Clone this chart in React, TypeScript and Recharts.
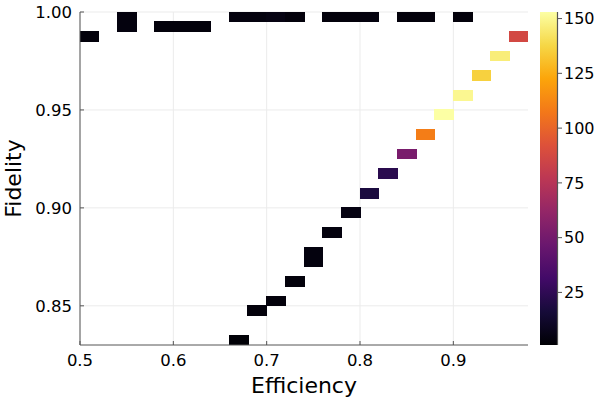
import React from 'react';
import { ScatterChart, XAxis, YAxis, CartesianGrid, ReferenceArea } from 'recharts';

// histogram bins: left edge (efficiency), bottom edge (fidelity), count
const effBins = [
  0.50, 0.54, 0.54, 0.58, 0.60, 0.62, 0.66, 0.68, 0.70, 0.72, 0.76, 0.78, 0.80, 0.84, 0.86, 0.90, 0.96,
  0.66, 0.68, 0.70, 0.72, 0.74, 0.74, 0.76, 0.78, 0.80, 0.82, 0.84, 0.86, 0.88, 0.90, 0.92, 0.94,
];
const fidBins = [
  0.985, 0.995, 0.990, 0.990, 0.990, 0.990, 0.995, 0.995, 0.995, 0.995, 0.995, 0.995, 0.995, 0.995, 0.995, 0.995, 0.985,
  0.830, 0.845, 0.850, 0.860, 0.870, 0.875, 0.885, 0.895, 0.905, 0.915, 0.925, 0.935, 0.945, 0.955, 0.965, 0.975,
];
const counts = [
  3, 4, 4, 3, 3, 3, 4, 4, 5, 3, 3, 3, 4, 3, 3, 3, 87,
  2, 3, 3, 3, 4, 4, 4, 5, 18, 23, 52, 109, 153, 150, 136, 146,
];
const binWidth = 0.02;
const binHeight = 0.005;

const xTicks = [0.5, 0.6, 0.7, 0.8, 0.9];
const yTicks = [0.85, 0.9, 0.95, 1.0];
const cbarTicks = [25, 50, 75, 100, 125, 150];
const cMin = 1;
const cMax = 153;

const inferno = [
  '#000004', '#160b39', '#420a68', '#6a176e', '#932667', '#bc3754',
  '#dd513a', '#f37819', '#fca50a', '#f6d746', '#fcffa4',
];

const hexToRgb = (h: string) => [1, 3, 5].map(i => parseInt(h.slice(i, i + 2), 16));

const colorFor = (v: number) => {
  const t = Math.min(1, Math.max(0, (v - cMin) / (cMax - cMin)));
  const p = t * (inferno.length - 1);
  const i = Math.min(inferno.length - 2, Math.floor(p));
  const f = p - i;
  const a = hexToRgb(inferno[i]);
  const b = hexToRgb(inferno[i + 1]);
  const c = a.map((x, k) => Math.round(x + (b[k] - x) * f));
  return `rgb(${c[0]},${c[1]},${c[2]})`;
};

const FONT = 'DejaVu Sans, sans-serif';

// colorbar geometry (legend, not data)
const CB_X = 540;
const CB_W = 17;
const CB_TOP = 12;
const CB_BOTTOM = 345;

const Colorbar = () => {
  const h = CB_BOTTOM - CB_TOP;
  const yOf = (v: number) => CB_BOTTOM - ((v - cMin) / (cMax - cMin)) * h;
  return (
    <svg width={600} height={400} style={{ position: 'absolute', left: 0, top: 0, pointerEvents: 'none' }}>
      <defs>
        <linearGradient id="infernoGrad" x1="0" y1="1" x2="0" y2="0">
          {inferno.map((c, i) => (
            <stop key={i} offset={`${(i / (inferno.length - 1)) * 100}%`} stopColor={c} />
          ))}
        </linearGradient>
      </defs>
      <rect x={CB_X} y={CB_TOP} width={CB_W} height={h} fill="url(#infernoGrad)" />
      <line x1={CB_X + CB_W + 0.5} x2={CB_X + CB_W + 0.5} y1={CB_TOP} y2={CB_BOTTOM} stroke="#555" strokeWidth={1.2} />
      {cbarTicks.map(v => (
        <g key={v}>
          <line x1={CB_X + CB_W + 1} x2={CB_X + CB_W + 5} y1={yOf(v)} y2={yOf(v)} stroke="#555" strokeWidth={1} />
          <text x={CB_X + CB_W + 7} y={yOf(v)} dy="0.36em" fontSize={16} fontFamily={FONT} fill="#000">
            {v}
          </text>
        </g>
      ))}
    </svg>
  );
};

export default function App() {
  return (
    <div style={{ position: 'absolute', left: 0, top: 0, width: 600, height: 400, background: '#fff' }}>
      <ScatterChart width={600} height={400} margin={{ top: 12, right: 72, bottom: 0, left: 0 }}>
        <CartesianGrid stroke="#ebebeb" strokeWidth={1} verticalValues={xTicks} horizontalValues={yTicks} />
        <XAxis
          type="number"
          dataKey="x"
          domain={[0.5, 0.98]}
          allowDataOverflow
          ticks={xTicks}
          tickFormatter={(v: number) => v.toFixed(1)}
          height={55}
          tickSize={-4}
          tickMargin={13}
          stroke="#555"
          tick={{ fill: '#000', fontSize: 16.5, fontFamily: FONT }}
          label={{ value: 'Efficiency', position: 'insideBottom', offset: 7, fontSize: 22, fontFamily: FONT, fill: '#000' }}
        />
        <YAxis
          type="number"
          dataKey="y"
          domain={[0.83, 1.0]}
          allowDataOverflow
          ticks={yTicks}
          tickFormatter={(v: number) => v.toFixed(2)}
          width={80}
          tickSize={-4}
          tickMargin={12}
          stroke="#555"
          tick={{ fill: '#000', fontSize: 16.5, fontFamily: FONT }}
          label={{
            value: 'Fidelity',
            angle: -90,
            position: 'insideLeft',
            offset: 13,
            fontSize: 22,
            fontFamily: FONT,
            fill: '#000',
            style: { textAnchor: 'middle' },
          }}
        />
        {effBins.map((x, i) => (
          <ReferenceArea
            key={i}
            x1={x}
            x2={x + binWidth}
            y1={fidBins[i]}
            y2={fidBins[i] + binHeight}
            fill={colorFor(counts[i])}
            fillOpacity={1}
            stroke={colorFor(counts[i])}
            strokeWidth={1}
            shapeRendering="crispEdges"
            ifOverflow="hidden"
          />
        ))}
      </ScatterChart>
      <Colorbar />
    </div>
  );
}
